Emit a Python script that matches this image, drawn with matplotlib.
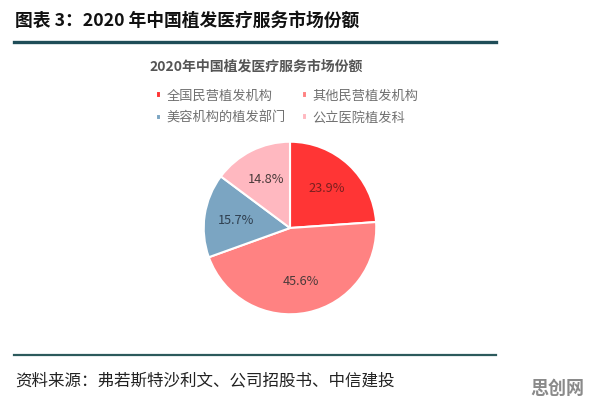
import matplotlib
matplotlib.use('Agg')
import matplotlib.pyplot as plt
from matplotlib.lines import Line2D

plt.rcParams['font.family'] = ['Noto Sans CJK SC', 'DejaVu Sans']

# data
categories = ['全国民营植发机构', '其他民营植发机构', '美容机构的植发部门', '公立医院植发科']
shares = [23.9, 45.6, 15.7, 14.8]
colors = ['#FF3535', '#FF8282', '#7BA5C2', '#FFB8C0']
label_colors = ['#7a1f1f', '#4a3a3a', '#2f3f4f', '#4a3a3a']

W, H = 596, 403
fig = plt.figure(figsize=(W / 100, H / 100), dpi=100)
fig.patch.set_facecolor('white')

def fx(px):
    return px / W

def fy(py):
    return 1 - py / H

# header
fig.text(fx(15), fy(21), '图表 3：2020 年中国植发医疗服务市场份额', fontsize=12.8,
         fontweight='bold', color='#111111', va='center', ha='left')
fig.add_artist(Line2D([fx(14), fx(496)], [fy(42), fy(42)], color='#1f4d58', lw=2.4))

# chart title
fig.text(fx(256), fy(67), '2020年中国植发医疗服务市场份额', fontsize=10,
         fontweight='bold', color='#555555', va='center', ha='center')

# pie
cx, cy, r = 290, 228, 88
ax = fig.add_axes([fx(cx - r), fy(cy + r), (2 * r) / W, (2 * r) / H])
wedges, texts, autotexts = ax.pie(
    shares, colors=colors, startangle=90, counterclock=False, radius=1,
    autopct='%.1f%%', pctdistance=0.63,
    wedgeprops=dict(edgecolor='white', linewidth=1.5),
    textprops=dict(fontsize=9.2))
for t, c in zip(autotexts, label_colors):
    t.set_color(c)
ax.set_xlim(-1.02, 1.02)
ax.set_ylim(-1.02, 1.02)
ax.set_aspect('equal')
ax.axis('off')

# legend (row-wise order for 2 columns)
order = [0, 2, 1, 3]
leg = fig.legend([wedges[i] for i in order], [categories[i] for i in order],
                 ncol=2, loc='center', bbox_to_anchor=(fx(287), fy(107)),
                 frameon=False, fontsize=9.5, handlelength=0.4, handleheight=0.4,
                 handletextpad=0.4, columnspacing=1.2, labelspacing=0.7)
for t in leg.get_texts():
    t.set_color('#707070')

# footer
fig.add_artist(Line2D([fx(14), fx(496)], [fy(355), fy(355)], color='#2c5a5c', lw=1.6))
fig.text(fx(15), fy(381), '资料来源：弗若斯特沙利文、公司招股书、中信建投', fontsize=11.9,
         color='#222222', va='center', ha='left')
fig.text(fx(557), fy(388), '思创网', fontsize=13, fontweight='bold',
         color='#8a8a8a', va='center', ha='center')

fig.savefig('out.png', dpi=100)
